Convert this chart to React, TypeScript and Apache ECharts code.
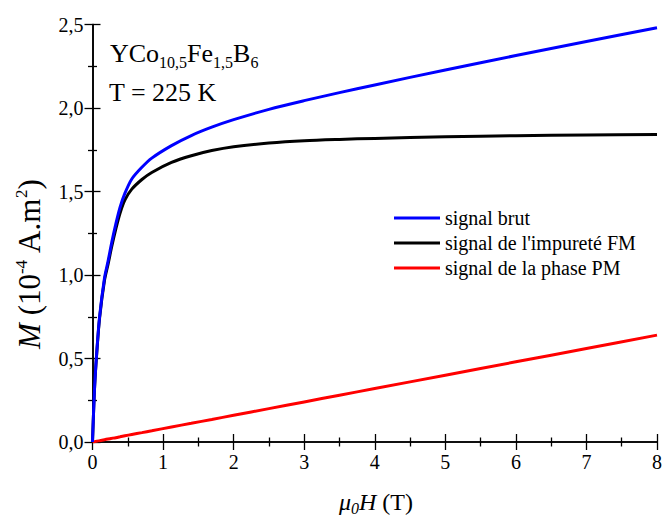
import React, { useEffect, useRef } from "react";
import * as echarts from "echarts";

// Applied field µ0H (T)
const fieldH = [0, 0.01, 0.03, 0.06, 0.1, 0.17, 0.22, 0.275, 0.33, 0.39, 0.46, 0.557, 0.7, 0.84, 1.12, 1.4, 1.69, 2, 2.5, 3, 3.5, 4, 5, 6, 7, 8];
// Raw signal (blue)
const rawSignal = [0, 0.121, 0.332, 0.535, 0.748, 0.982, 1.082, 1.2, 1.305, 1.405, 1.49, 1.575, 1.645, 1.7, 1.775, 1.835, 1.885, 1.93, 1.992, 2.044, 2.092, 2.138, 2.228, 2.314, 2.398, 2.481];
// FM impurity signal (black)
const fmSignal = [0, 0.12, 0.33, 0.53, 0.74, 0.968, 1.064, 1.175, 1.275, 1.37, 1.45, 1.514, 1.572, 1.614, 1.674, 1.714, 1.745, 1.768, 1.79, 1.804, 1.812, 1.818, 1.828, 1.834, 1.838, 1.841];
// PM phase signal (red)
const pmSignal = [0, 0.001, 0.002, 0.005, 0.008, 0.014, 0.018, 0.022, 0.026, 0.031, 0.037, 0.045, 0.056, 0.067, 0.09, 0.112, 0.135, 0.16, 0.2, 0.24, 0.28, 0.32, 0.4, 0.48, 0.56, 0.64];

const seriesNames = ["signal brut", "signal de l'impureté FM", "signal de la phase PM"];
const seriesColors = ["#0000ff", "#000000", "#ff0000"];

const FONT = '"Liberation Serif", "Times New Roman", serif';

const pair = (ys: number[]) => fieldH.map((x, i) => [x, ys[i]]);

export default function App() {
  const ref = useRef<HTMLDivElement>(null);
  useEffect(() => {
    if (!ref.current) return;
    const chart = echarts.init(ref.current, undefined, { renderer: "svg" });
    const axisLine = { show: true, lineStyle: { color: "#000", width: 1.6 } };
    const tickMajor = { show: true, inside: true, length: 8, lineStyle: { color: "#000", width: 1.3 } };
    const tickMinor = { show: true, splitNumber: 2, length: 4.5, lineStyle: { color: "#000", width: 1.3 } };
    const labelStyle = { color: "#000", fontFamily: FONT, fontSize: 20 };
    const mk = (name: string, ys: number[], color: string) => ({
      name,
      type: "line",
      data: pair(ys),
      showSymbol: false,
      symbol: "none",
      smooth: 0.3,
      lineStyle: { color, width: 3 },
      itemStyle: { color },
      z: 3,
    });
    chart.setOption({
      animation: false,
      backgroundColor: "#fff",
      grid: { left: 92.5, right: 5, top: 24.5, bottom: 76, containLabel: false },
      legend: {
        data: seriesNames.map((n, i) => ({ name: n, icon: "rect", itemStyle: { color: seriesColors[i] } })),
        orient: "vertical",
        left: 389,
        top: 203,
        itemWidth: 46,
        itemHeight: 3,
        itemGap: 5,
        textStyle: { color: "#000", fontFamily: FONT, fontSize: 20 },
      },
      xAxis: [
        {
          type: "value",
          min: 0,
          max: 8,
          interval: 1,
          axisLine,
          axisTick: tickMajor,
          minorTick: tickMinor,
          splitLine: { show: false },
          axisLabel: { ...labelStyle, margin: 10 },
        },
        {
          type: "value",
          position: "top",
          min: 0,
          max: 8,
          interval: 1,
          axisLine,
          axisTick: tickMajor,
          minorTick: tickMinor,
          splitLine: { show: false },
          axisLabel: { show: false },
        },
      ],
      yAxis: [
        {
          type: "value",
          min: 0,
          max: 2.5,
          interval: 0.5,
          axisLine,
          axisTick: tickMajor,
          minorTick: tickMinor,
          splitLine: { show: false },
          axisLabel: {
            ...labelStyle,
            margin: 9,
            formatter: (v: number) => v.toFixed(1).replace(".", ","),
          },
        },
        {
          type: "value",
          position: "right",
          min: 0,
          max: 2.5,
          interval: 0.5,
          axisLine,
          axisTick: tickMajor,
          minorTick: tickMinor,
          splitLine: { show: false },
          axisLabel: { show: false },
        },
      ],
      series: [
        mk(seriesNames[2], pmSignal, seriesColors[2]),
        mk(seriesNames[1], fmSignal, seriesColors[1]),
        mk(seriesNames[0], rawSignal, seriesColors[0]),
      ],
      graphic: [
        {
          type: "text",
          left: 110,
          top: 30,
          z: 10,
          style: {
            text: "{m|YCo}{s|10,5}{m|Fe}{s|1,5}{m|B}{s|6}",
            fill: "#000",
            rich: {
              m: { fontFamily: FONT, fontSize: 26, lineHeight: 30, verticalAlign: "top", fill: "#000" },
              s: { fontFamily: FONT, fontSize: 16, lineHeight: 16, padding: [24, 0, 0, 0], verticalAlign: "bottom", fill: "#000" },
            },
          },
        },
        {
          type: "text",
          left: 109,
          top: 79.5,
          z: 10,
          style: { text: "T = 225 K", fontFamily: FONT, fontSize: 26, fill: "#000" },
        },
        {
          type: "text",
          x: 29,
          y: 264,
          rotation: Math.PI / 2,
          z: 10,
          style: {
            text: "{i|M}{m| (10}{p|-4}{m| A.m}{p|2}{m|)}",
            align: "center",
            verticalAlign: "middle",
            fill: "#000",
            rich: {
              i: { fontFamily: FONT, fontStyle: "italic", fontSize: 31, lineHeight: 32, verticalAlign: "bottom", fill: "#000" },
              m: { fontFamily: FONT, fontSize: 31, lineHeight: 32, verticalAlign: "bottom", fill: "#000" },
              p: { fontFamily: FONT, fontSize: 17, lineHeight: 17, verticalAlign: "top", fill: "#000" },
            },
          },
        },
        {
          type: "text",
          x: 376,
          y: 490,
          z: 10,
          style: {
            text: "{i|μ}{s|0}{i|H}{m| (T)}",
            align: "center",
            verticalAlign: "top",
            fill: "#000",
            rich: {
              i: { fontFamily: FONT, fontStyle: "italic", fontSize: 24, lineHeight: 26, verticalAlign: "top", fill: "#000" },
              m: { fontFamily: FONT, fontSize: 24, lineHeight: 26, verticalAlign: "top", fill: "#000" },
              s: { fontFamily: FONT, fontStyle: "italic", fontSize: 16, lineHeight: 16, padding: [21, 0, 0, 0], verticalAlign: "bottom", fill: "#000" },
            },
          },
        },
      ],
    });
    return () => chart.dispose();
  }, []);
  return <div ref={ref} style={{ position: "fixed", left: 0, top: 0, width: 665, height: 518 }} />;
}
